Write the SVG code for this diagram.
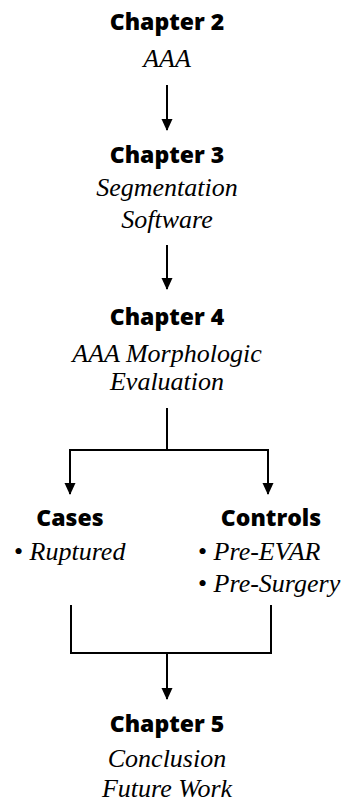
<svg xmlns="http://www.w3.org/2000/svg" width="347" height="802" viewBox="0 0 347 802">
<defs>
<marker id="ah" viewBox="0 0 12 12" refX="11" refY="6" markerWidth="12" markerHeight="12" markerUnits="userSpaceOnUse" orient="auto">
<path d="M0,0.5 L12,6 L0,11.5 z" fill="#000"/>
</marker>
<style>
.h{font-family:"Open Sans","Liberation Sans",sans-serif;font-weight:800;font-size:23px;fill:#000;text-anchor:middle}
.i{font-family:"Liberation Serif",serif;font-style:italic;font-size:26px;fill:#000;text-anchor:middle}
.b{font-family:"Liberation Serif",serif;font-size:26px;fill:#000}
.l{stroke:#000;stroke-width:2;fill:none}
</style>
</defs>
<rect width="347" height="802" fill="#fff"/>
<g id="connectors">
<path class="l" d="M167,85 V130" marker-end="url(#ah)"/>
<path class="l" d="M167,245 V289" marker-end="url(#ah)"/>
<path class="l" d="M167,408 V450 M70,450 H268"/>
<path class="l" d="M70,449 V494" marker-end="url(#ah)"/>
<path class="l" d="M268,449 V494" marker-end="url(#ah)"/>
<path class="l" d="M71,605 V653 H271 V605"/>
<path class="l" d="M167,653 V699" marker-end="url(#ah)"/>
</g>
<g id="ch2">
<text class="h" x="167" y="30">Chapter 2</text>
<text class="i" x="167" y="67">AAA</text>
</g>
<g id="ch3">
<text class="h" x="167" y="163">Chapter 3</text>
<text class="i" x="167" y="196">Segmentation</text>
<text class="i" x="167" y="228">Software</text>
</g>
<g id="ch4">
<text class="h" x="167" y="325">Chapter 4</text>
<text class="i" x="167" y="362">AAA Morphologic</text>
<text class="i" x="167" y="390">Evaluation</text>
</g>
<g id="cases">
<text class="h" x="70" y="526">Cases</text>
<text class="b" x="14" y="560">• <tspan font-style="italic">Ruptured</tspan></text>
</g>
<g id="controls">
<text class="h" x="271" y="526">Controls</text>
<text class="b" x="198" y="560">• <tspan font-style="italic">Pre-EVAR</tspan></text>
<text class="b" x="198" y="592">• <tspan font-style="italic">Pre-Surgery</tspan></text>
</g>
<g id="ch5">
<text class="h" x="167" y="732">Chapter 5</text>
<text class="i" x="167" y="767">Conclusion</text>
<text class="i" x="167" y="797">Future Work</text>
</g>
</svg>
